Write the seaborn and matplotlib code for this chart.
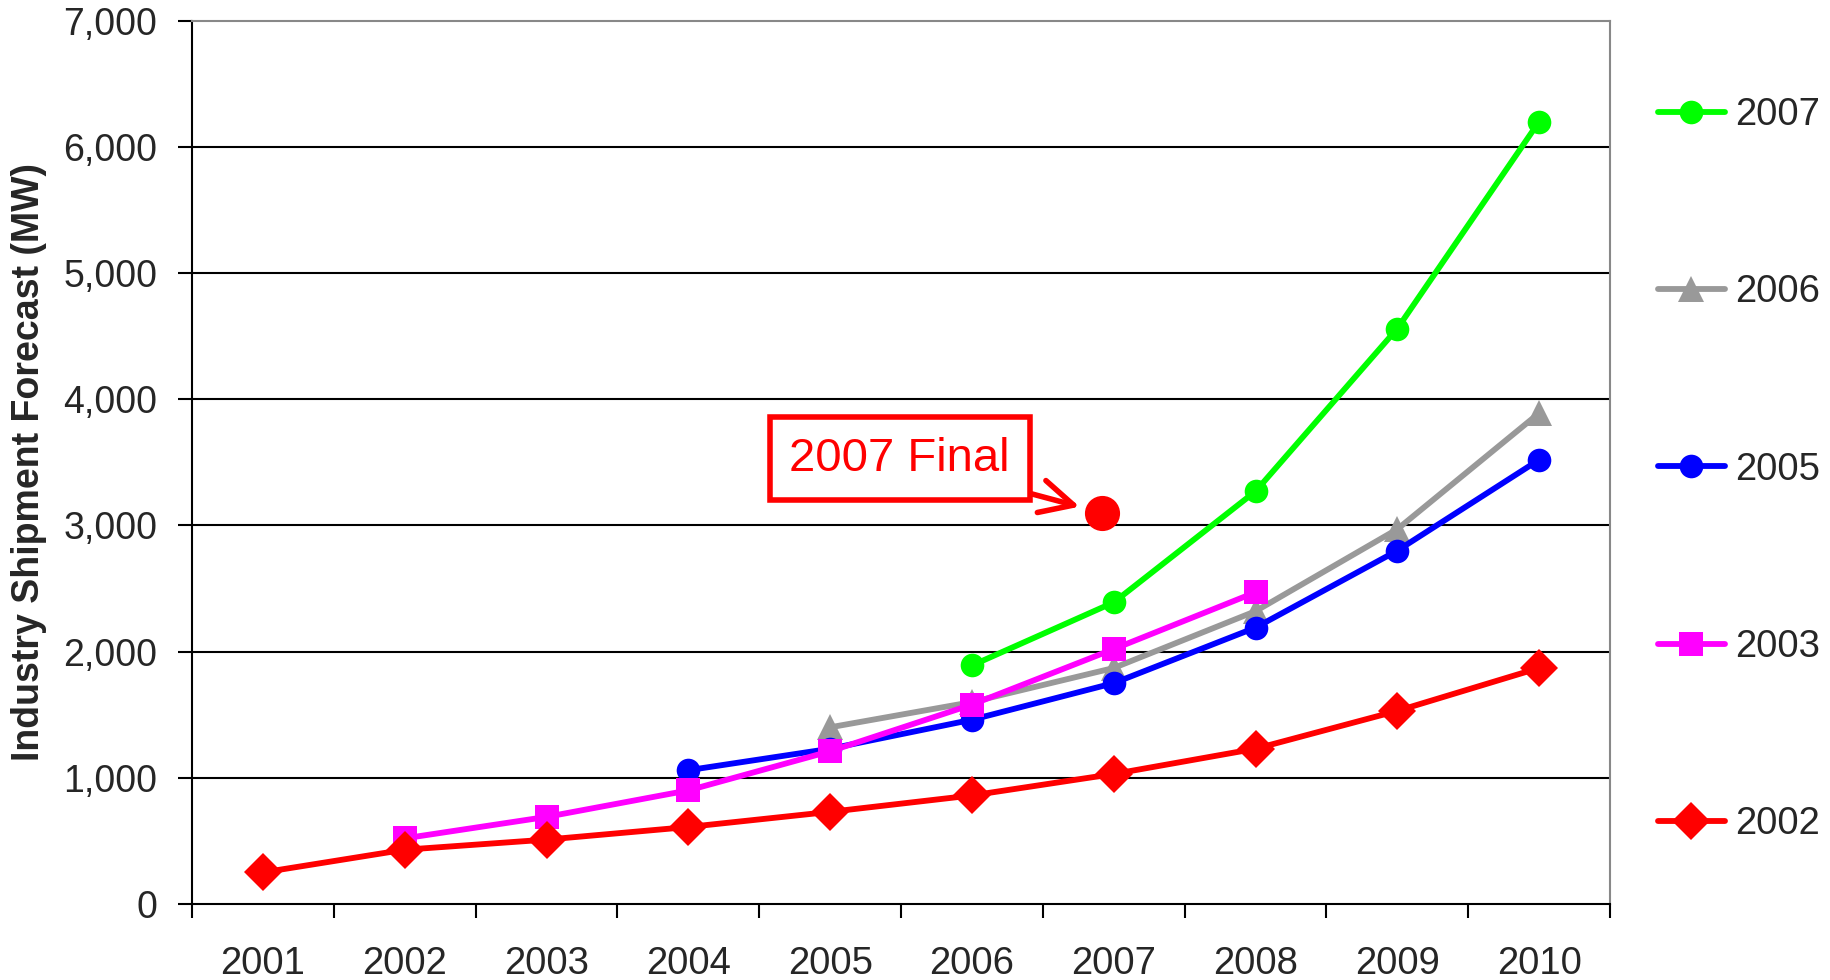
import numpy as np
import pandas as pd
import matplotlib
matplotlib.use("Agg")
import matplotlib.pyplot as plt
import seaborn as sns

# Forecast years on the category axis
years = ["2001", "2002", "2003", "2004", "2005", "2006", "2007", "2008", "2009", "2010"]

# Shipment forecasts (MW) by the year the forecast was published
fc_2007 = [None, None, None, None, None, 1890, 2390, 3270, 4560, 6200]
fc_2006 = [None, None, None, None, 1400, 1600, 1870, 2320, 2970, 3890]
fc_2005 = [None, None, None, 1060, 1230, 1460, 1750, 2190, 2800, 3520]
fc_2003 = [None, 520, 690, 900, 1210, 1580, 2020, 2470, None, None]
fc_2002 = [250, 430, 510, 610, 730, 860, 1030, 1230, 1530, 1870]

# Actual final shipments for 2007
final_year = "2007"
final_value = 3100
final_label = "2007 Final"

series_names = ["2007", "2006", "2005", "2003", "2002"]
series_values = [fc_2007, fc_2006, fc_2005, fc_2003, fc_2002]
series_colors = ["#00FF00", "#999999", "#0000FF", "#FF00FF", "#FF0000"]
series_markers = ["o", "^", "o", "s", "D"]
series_msizes = [17, 19, 17, 17.5, 19.5]

y_ticks = [0, 1000, 2000, 3000, 4000, 5000, 6000, 7000]
y_label = "Industry Shipment Forecast (MW)"

sns.set_theme(style="white")
plt.rcParams["font.family"] = ["Liberation Sans", "DejaVu Sans"]

fig = plt.figure(figsize=(18.31, 9.80), dpi=100)
ax = fig.add_axes([0.1049, 0.0776, 0.7744, 0.9013])

x_pos = np.arange(len(years))
for name, vals, col, mk, ms in zip(series_names, series_values, series_colors,
                                   series_markers, series_msizes):
    df = pd.DataFrame({"x": x_pos, "y": pd.array(vals, dtype="Float64")}).dropna()
    df["y"] = df["y"].astype(float)
    sns.lineplot(data=df, x="x", y="y", ax=ax, color=col, marker=mk,
                 markersize=ms, markeredgewidth=0, linewidth=4.2,
                 label=name, zorder=3)

handles, labels = ax.get_legend_handles_labels()
ax.get_legend().remove()

# 2007 actual point, drawn just left of the category centre
fx = years.index(final_year) - 0.08
sns.scatterplot(x=[fx], y=[final_value], ax=ax, color="#FF0000", s=640,
                linewidth=0, zorder=5, legend=False)
ax.annotate(final_label, xy=(fx, final_value), xycoords="data",
            xytext=(4.49, 3530), textcoords="data",
            fontsize=34, color="#FF0000", ha="center", va="center",
            bbox=dict(boxstyle="square,pad=0.42", fc="white", ec="#FF0000", lw=4),
            arrowprops=dict(arrowstyle="->,head_length=0.7,head_width=0.35",
                            color="#FF0000", lw=4, shrinkA=0, shrinkB=17),
            zorder=6)

# Axes limits and ticks
ax.set_xlim(-0.5, len(years) - 0.5)
ax.set_ylim(y_ticks[0], y_ticks[-1])
ax.set_yticks(y_ticks)
ax.set_yticklabels([f"{v:,}" for v in y_ticks], fontsize=27)
ax.set_xticks(np.arange(len(years) + 1) - 0.5)
ax.set_xticklabels([])
ax.set_xticks(x_pos, minor=True)
ax.set_xticklabels(years, minor=True, fontsize=27.5)
ax.tick_params(axis="x", which="major", direction="out", length=10, width=1.5,
               color="black", bottom=True)
ax.tick_params(axis="x", which="minor", length=0, pad=30)
ax.tick_params(axis="y", direction="out", length=10, width=1.5, color="black",
               left=True, pad=15)

for v in y_ticks[1:-1]:
    ax.axhline(v, color="black", lw=1.5, zorder=1)

ax.set_xlabel("")
ax.set_ylabel(y_label, fontsize=27, fontweight="bold", labelpad=12)

for side in ["left", "bottom"]:
    ax.spines[side].set_color("black")
    ax.spines[side].set_linewidth(1.5)
for side in ["top", "right"]:
    ax.spines[side].set_color("#888888")
    ax.spines[side].set_linewidth(1.5)

fig.legend(handles, labels, loc="upper left",
           bbox_to_anchor=(0.9055, 0.901), frameon=False, fontsize=27.5,
           handlelength=1.75, handletextpad=0.28, labelspacing=3.7,
           borderpad=0, borderaxespad=0)

fig.savefig("out.png", dpi=100)
